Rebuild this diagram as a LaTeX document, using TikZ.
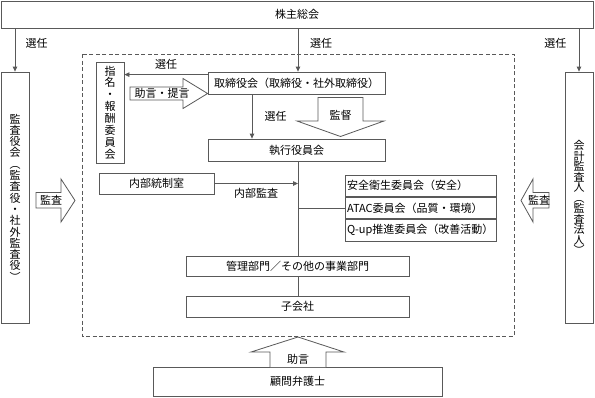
\documentclass[tikz,border=0pt]{standalone}
\usepackage{fontspec}
\setmainfont{Noto Sans CJK JP}
\usepackage{tikz}
\usetikzlibrary{positioning,arrows.meta,calc}

\colorlet{linegray}{black!65}
\setlength{\lineskiplimit}{-20pt}

\begin{document}
\begin{tikzpicture}[x=1pt, y=-1pt, >={Triangle[length=5pt,width=4.5pt]},
  every node/.style={font=\fontsize{11pt}{13pt}\selectfont, align=center},
  box/.style={draw=linegray, line width=0.8pt, inner sep=0pt},
  tate/.style={box},
  cmte/.style={box, inner xsep=2pt, text width=147pt, align=left, minimum height=21.5pt},
  fat/.style={draw=linegray, line width=0.8pt, fill=white},
  link/.style={draw=linegray, line width=0.8pt}]
  \useasboundingbox (0,0) rectangle (595,397);
  \coordinate (spine) at (298,0);
  \coordinate (audit) at (252,0);

  % shareholders and the two outside auditors
  \node[box, minimum width=592pt, minimum height=27pt] (gm) at (297,14.5) {株主総会};
  \node[tate, minimum width=28pt, minimum height=251pt,
        font=\fontsize{11pt}{11.3pt}\selectfont] (kansa)
        at (15,197.5) {監\\査\\役\\会\\︵\\監\\査\\役\\・\\社\\外\\監\\査\\役\\︶};
  \node[tate, minimum width=28pt, minimum height=251pt,
        font=\fontsize{11pt}{10.5pt}\selectfont] (kaikei)
        at (579,197.5) {会\\計\\監\\査\\人\\︵\\監\\査\\法\\人\\︶};

  % company frame
  \draw[linegray, line width=0.9pt, dash pattern=on 4pt off 2.5pt] (82,54) rectangle (514,336);

  \node[tate, minimum width=28pt, minimum height=101pt,
        font=\fontsize{11pt}{11.9pt}\selectfont] (nomi)
        at (110,112.5) {指\\名\\・\\報\\酬\\委\\員\\会};
  \node[box, minimum width=177pt, minimum height=22pt] (board) at (296.5,83) {取締役会（取締役・社外取締役）};
  \node[box, minimum width=177pt, minimum height=22pt] (exec) at (296.5,150) {執行役員会};
  \node[box, minimum width=115pt, minimum height=21pt] (ictl) at (156.5,183.5) {内部統制室};
  \node[cmte] (c1) at (420.5,185.75) {\mbox{安全衛生委員会（安全）}};
  \node[cmte, below=0pt of c1] (c2) {\mbox{ATAC委員会（品質・環境）}};
  \node[cmte, below=0pt of c2] (c3) {\mbox{Q-up推進委員会（改善活動）}};
  \node[box, minimum width=223pt, minimum height=20pt] (mgmt) at (297.5,266) {管理部門／その他の事業部門};
  \node[box, minimum width=223pt, minimum height=21pt] (sub) at (297.5,306.5) {子会社};
  \node[box, minimum width=289pt, minimum height=29pt] (lawyer) at (297.5,381.5) {顧問弁護士};

  % elections
  \draw[link, ->] (gm.south -| kansa) -- node[pos=0.35, right=7pt] {選任} (kansa.north);
  \draw[link, ->] (gm.south -| spine) -- node[pos=0.35, right=8.5pt] {選任} (board.north -| spine);
  \draw[link, ->] (gm.south -| kaikei) -- node[pos=0.35, left=9pt] {選任} (kaikei.north);
  \coordinate (sel) at ([yshift=-3pt]board.north west);
  \draw[link, ->] (sel) -- node[above=1pt] {選任} (sel -| nomi.east);
  \draw[link, ->] (board.south -| audit) -- node[right=9pt] {選任} (exec.north -| audit);

  % internal lines
  \draw[link] (exec.south -| spine) -- (mgmt.north -| spine);
  \draw[link, ->] (ictl.east) -- node[below=1pt] {内部監査} (ictl.east -| spine);
  \draw[link] (c2.west -| spine) -- (c2.west);
  \draw[link] (mgmt.south -| spine) -- (sub.north -| spine);

  % wide arrows
  \draw[fat] (130,87) -- (183,87) -- (183,78.5) -- (board.west |- 0,93.5)
        -- (183,108.5) -- (183,100) -- (130,100) -- cycle;
  \node (advise) at (162,93.5) {助言・提言};
  \draw[fat] (318,97.5) -- (363,97.5) -- (363,121) -- (384,121) -- (340.5,136.5)
        -- (297,121) -- (318,121) -- cycle;
  \node (oversee) at (340.5,115) {監督};
  \draw[fat] (36,192.5) -- (61,192.5) -- (61,179) -- (75,200.5) -- (61,222)
        -- (61,208) -- (36,208) -- cycle;
  \node (auditL) at (51,200.5) {監査};
  \draw[fat] (549,192.5) -- (533,192.5) -- (533,179) -- (521,200.5) -- (533,222)
        -- (533,208) -- (549,208) -- cycle;
  \node (auditR) at (539,200.5) {監査};
  \draw[fat] (270,367) -- (270,352) -- (251,352) -- (298,337) -- (344,352)
        -- (326,352) -- (326,367);
  \node (counsel) at (298,359) {助言};
\end{tikzpicture}
\end{document}
